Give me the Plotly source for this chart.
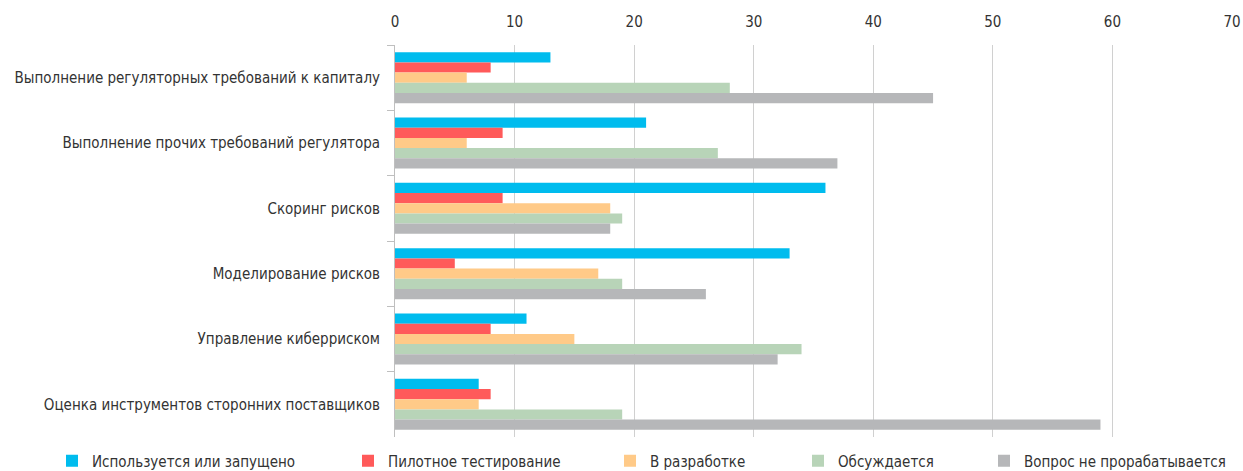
import plotly.graph_objects as go

categories = [
    "Выполнение регуляторных требований к капиталу",
    "Выполнение прочих требований регулятора",
    "Скоринг рисков",
    "Моделирование рисков",
    "Управление киберриском",
    "Оценка инструментов сторонних поставщиков",
]
series_names = [
    "Используется или запущено",
    "Пилотное тестирование",
    "В разработке",
    "Обсуждается",
    "Вопрос не прорабатывается",
]
used = [13, 21, 36, 33, 11, 7]
pilot = [8, 9, 9, 5, 8, 8]
develop = [6, 6, 18, 17, 15, 7]
discussed = [28, 27, 19, 19, 34, 19]
not_considered = [45, 37, 18, 26, 32, 59]
x_ticks = [0, 10, 20, 30, 40, 50, 60, 70]

values = [used, pilot, develop, discussed, not_considered]
colors = ["#00BCEE", "#FF5A5A", "#FFCA88", "#B8D4B8", "#B6B7B9"]

FONT = "Liberation Sans Narrow, DejaVu Sans Condensed, Roboto, sans-serif"
TXT = "#333333"

fig = go.Figure()
legend_ids = ["legend", "legend2", "legend3", "legend4", "legend5"]
for name, vals, col, lg in zip(series_names, values, colors, legend_ids):
    fig.add_trace(go.Bar(
        y=categories, x=vals, name=name, orientation="h",
        marker=dict(color=col, line=dict(width=0)),
        legend=lg, showlegend=True,
    ))

W_PX, H_PX = 1243, 471
plot_l, plot_r = 395, 1232
text_starts = [94, 390, 652, 840, 1026]
leg_layout = {}
for lg, ts in zip(legend_ids, text_starts):
    leg_layout[lg] = dict(
        xref="container", yref="container",
        x=(ts - 42) / W_PX, xanchor="left",
        y=1 - 461 / H_PX, yanchor="middle", orientation="h",
        font=dict(family=FONT, size=15, color=TXT),
        bgcolor="rgba(0,0,0,0)", itemwidth=30,
    )

fig.update_layout(
    width=W_PX, height=H_PX, showlegend=True,
    margin=dict(l=plot_l, r=W_PX - plot_r, t=45, b=34, autoexpand=False),
    paper_bgcolor="white", plot_bgcolor="white",
    barmode="group", bargap=0.22, bargroupgap=0,
    font=dict(family=FONT, size=15, color=TXT),
    **leg_layout,
)
fig.update_xaxes(
    side="top", range=[0, 70], tickvals=x_ticks,
    showgrid=True, gridcolor="#D0D0D0", gridwidth=1,
    zeroline=False, showline=False, ticks="",
    tickfont=dict(family=FONT, size=15, color=TXT),
    ticklabelstandoff=14,
)
fig.update_yaxes(
    autorange="reversed", showline=True, linecolor="#BFBFBF", linewidth=1,
    ticks="outside", tickson="boundaries", ticklen=7, tickcolor="#BFBFBF",
    tickfont=dict(family=FONT, size=15, color=TXT),
    ticklabelstandoff=11,
)

fig.write_html("out.html")
